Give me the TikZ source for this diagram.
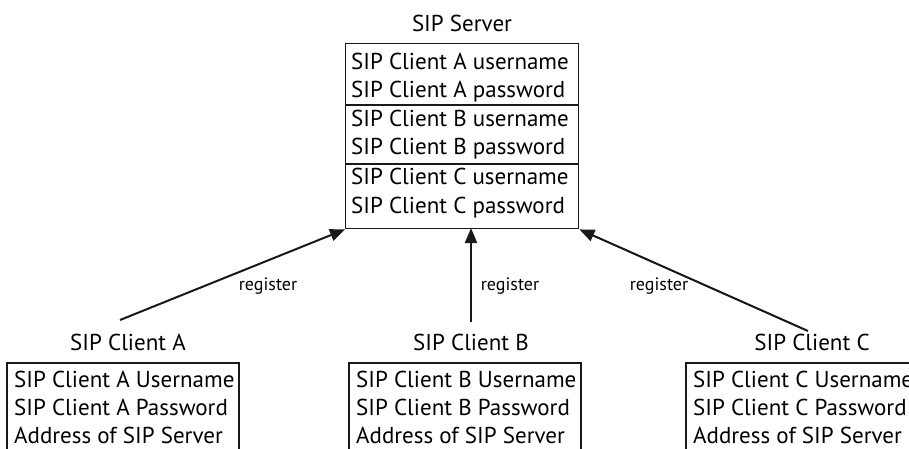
\documentclass[tikz,border=0pt]{standalone}
\usepackage{fontspec}
\setmainfont{PT Sans}
\usetikzlibrary{arrows.meta}
\tikzset{
  big/.style={font=\fontsize{23}{28}\selectfont, inner sep=0pt},
  small/.style={font=\fontsize{18}{20}\selectfont, inner sep=0pt},
  line/.style={draw=black!90, line width=1.4pt},
  reg/.style={draw=black!90, line width=2pt, -{Triangle[length=15pt,width=12pt]}},
}
\begin{document}
\begin{tikzpicture}[x=1pt,y=-1pt]
\useasboundingbox (0,0) rectangle (909,449);
\clip (0,0) rectangle (909,449);

% server
\node[big] (srvlbl) at (462,23) {SIP Server};
\node[line, minimum width=233pt, minimum height=185pt, anchor=north west, inner sep=0pt] (server) at (345,43) {};
\draw[line] (345,105) -- (578,105);
\draw[line] (345,164) -- (578,164);
\foreach \t/\y [count=\i] in {SIP Client A username/70, SIP Client A password/98,
  SIP Client B username/127, SIP Client B password/155,
  SIP Client C username/185, SIP Client C password/213}
  \node[big, anchor=base west] (srv\i) at (351,\y) {\t};

% clients
\foreach \c/\xl/\xr/\lx in {A/7/239/128, B/349/581/471, C/686/960/812}{
  \node[big] (lbl\c) at (\lx,342) {SIP Client \c};
  \draw[line] (\xl,460) -- (\xl,363) -- (\xr,363) -- (\xr,460);
  \node[big, anchor=base west] (u\c) at (\xl+7,387) {SIP Client \c\ Username};
  \node[big, anchor=base west] (p\c) at (\xl+7,415) {SIP Client \c\ Password};
  \node[big, anchor=base west] (s\c) at (\xl+7,443) {Address of SIP Server};
}

% register arrows
\coordinate (fromA) at (120,320);
\coordinate (fromB) at (471,322);
\coordinate (fromC) at (808,331);
\coordinate (toB) at (471,228);
\draw[reg] (fromA) -- (server.south west);
\draw[reg] (fromB) -- (toB);
\draw[reg] (fromC) -- (server.south east);
\node[small] (rA) at (268,286) {register};
\node[small] (rB) at (510,286) {register};
\node[small] (rC) at (659,286) {register};
\end{tikzpicture}
\end{document}
